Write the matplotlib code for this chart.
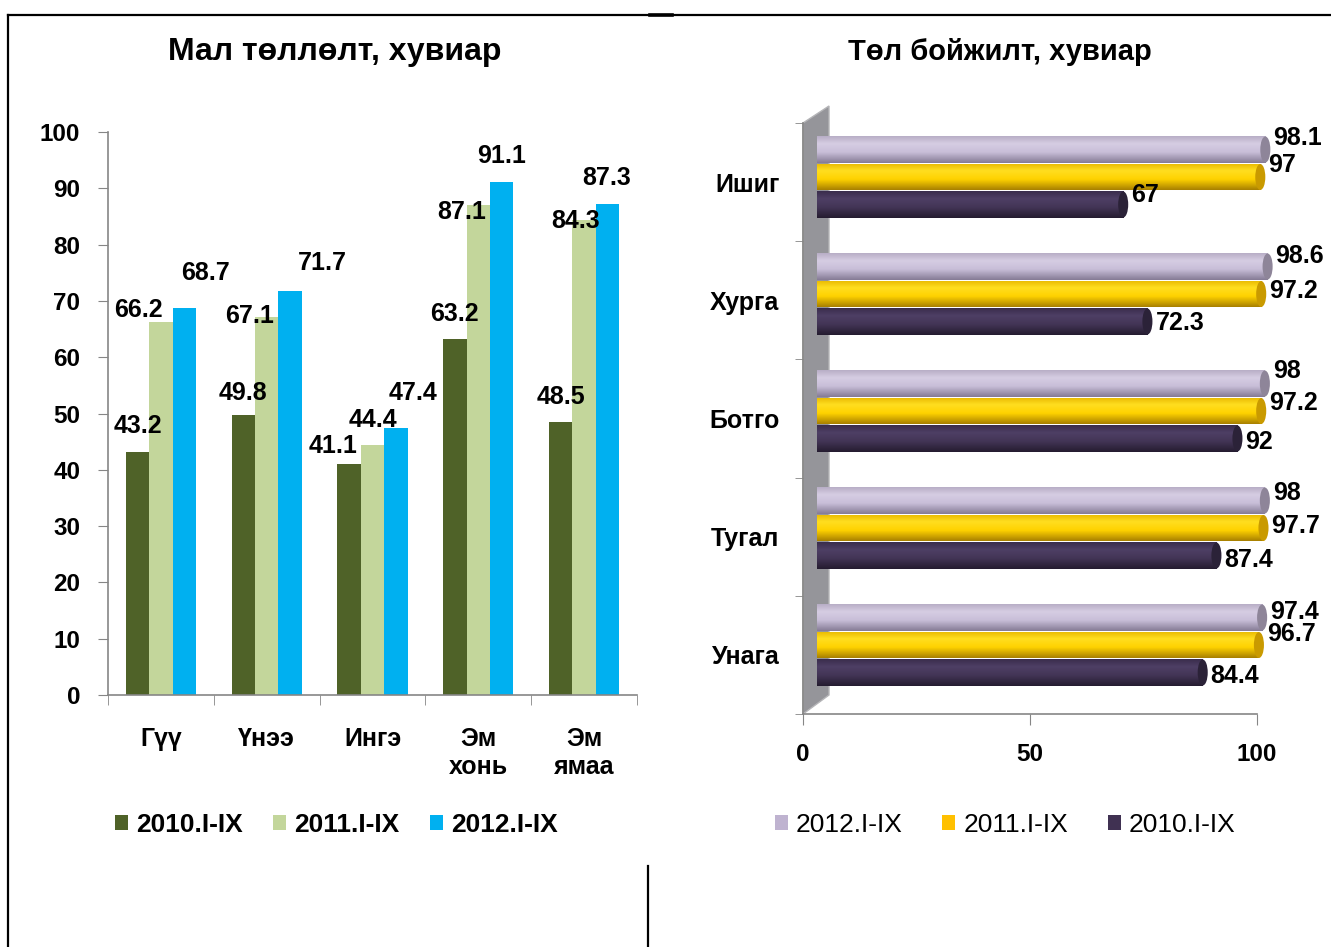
import matplotlib
matplotlib.use('Agg')
import matplotlib.pyplot as plt
import numpy as np
from matplotlib.patches import Polygon, Ellipse, Patch
from matplotlib.lines import Line2D
from matplotlib.colors import to_rgb

plt.rcParams['font.family'] = ['Liberation Sans', 'DejaVu Sans']

# ---------------- data ----------------
left_title = "Мал төллөлт, хувиар"
left_categories = ["Гүү", "Үнээ", "Ингэ", "Эм\nхонь", "Эм\nямаа"]
left_series = ["2010.I-IX", "2011.I-IX", "2012.I-IX"]
left_2010 = [43.2, 49.8, 41.1, 63.2, 48.5]
left_2011 = [66.2, 67.1, 44.4, 87.1, 84.3]
left_2012 = [68.7, 71.7, 47.4, 91.1, 87.3]
left_yticks = [0, 10, 20, 30, 40, 50, 60, 70, 80, 90, 100]

right_title = "Төл бойжилт, хувиар"
right_categories = ["Ишиг", "Хурга", "Ботго", "Тугал", "Унага"]
right_series = ["2012.I-IX", "2011.I-IX", "2010.I-IX"]
right_2012 = [98.1, 98.6, 98, 98, 97.4]
right_2011 = [97, 97.2, 97.2, 97.7, 96.7]
right_2010 = [67, 72.3, 92, 87.4, 84.4]
right_xticks = [0, 50, 100]

# label placement (pixels) for the value labels
label_dx = [[0, 0, -16, 0, 0], [-22, -17, 0, -17, -9], [21, 32, 17, 0, -1]]
label_dy = [[26, 22, 18, 25, 25], [12, 1, 25, -7, -1], [35, 28, 35, 26, 26]]
rlabel_dy = [[12, 11, 13, 8, 6], [12, 3, 8, 2, 11], [9, -2, -4, -5, -4]]

# ---------------- layout helpers ----------------
W, H = 1331, 947
fig = plt.figure(figsize=(W / 100, H / 100), dpi=100)
fig.patch.set_facecolor('white')
GRAY = '#868686'
PT = 0.72  # points per pixel at 100 dpi


def fx(px):
    return px / W


def fy(py):
    return 1 - py / H


# ---------------- frame lines ----------------
fig.add_artist(Line2D([fx(8), 1], [fy(15), fy(15)], color='black', lw=1.6, transform=fig.transFigure))
fig.add_artist(Line2D([fx(8), fx(8)], [fy(15), 0], color='black', lw=1.6, transform=fig.transFigure))
fig.add_artist(Line2D([fx(648), fx(648)], [fy(866), 0], color='black', lw=1.6, transform=fig.transFigure))
fig.add_artist(Line2D([fx(650), fx(672)], [fy(15.5), fy(15.5)], color='black', lw=2.6, transform=fig.transFigure))

# ---------------- left chart ----------------
ax1 = fig.add_axes([fx(108), fy(695), fx(637) - fx(108), fy(132) - fy(695)])
x = np.arange(len(left_categories))
bw = 0.221
left_colors = ['#4F6228', '#C3D69B', '#00B0F0']
left_vals = [left_2010, left_2011, left_2012]
for i, (vals, col) in enumerate(zip(left_vals, left_colors)):
    pos = x + (i - 1) * bw
    ax1.bar(pos, vals, bw, color=col, edgecolor='none', zorder=2)
    for j, (p, v) in enumerate(zip(pos, vals)):
        ax1.annotate(f"{v:g}", xy=(p, v), xytext=(label_dx[i][j] * PT, label_dy[i][j] * PT),
                     textcoords='offset points', ha='center', va='center',
                     fontsize=18, fontweight='bold', zorder=5)

ax1.set_xlim(-0.5, 4.5)
ax1.set_ylim(0, 100)
for s in ['top', 'right']:
    ax1.spines[s].set_visible(False)
for s in ['left', 'bottom']:
    ax1.spines[s].set_color(GRAY)
    ax1.spines[s].set_linewidth(1.2)
ax1.set_yticks(left_yticks)
ax1.tick_params(axis='y', direction='out', length=7, color=GRAY, labelsize=17.5, pad=13)
for lbl in ax1.get_yticklabels():
    lbl.set_fontweight('bold')
ax1.set_xticks(x)
ax1.set_xticklabels(left_categories, fontsize=18, fontweight='bold', linespacing=1.2)
ax1.set_xticks(np.arange(-0.5, 5, 1), minor=True)
ax1.tick_params(axis='x', which='major', length=0, pad=23)
ax1.tick_params(axis='x', which='minor', direction='out', length=7, color=GRAY)

fig.text(fx(335), fy(52), left_title, ha='center', va='center', fontsize=23, fontweight='bold')

h1 = [Patch(facecolor=c, edgecolor='none') for c in left_colors]
fig.legend(h1, left_series, loc='center', bbox_to_anchor=(fx(336), fy(825)), ncol=3, frameon=False,
           handlelength=0.5, handleheight=0.5, handletextpad=0.3, columnspacing=1.15,
           prop={'weight': 'bold', 'size': 19})

# ---------------- right chart ----------------
ax2 = fig.add_axes([fx(803), fy(714), fx(1257) - fx(803), fy(123) - fy(714)])
ax2.set_xlim(0, 100)
ax2.set_ylim(4.5, -0.5)
for s in ['top', 'right']:
    ax2.spines[s].set_visible(False)
for s in ['left', 'bottom']:
    ax2.spines[s].set_color(GRAY)
    ax2.spines[s].set_linewidth(1.2)
ax2.set_xticks(right_xticks)
ax2.set_xticklabels([str(t) for t in right_xticks], fontsize=17.5, fontweight='bold')
ax2.tick_params(axis='x', direction='out', length=8, color=GRAY, pad=13)
ax2.set_yticks(np.arange(len(right_categories)))
ax2.set_yticklabels(right_categories, fontsize=18, fontweight='bold')
ax2.set_yticks(np.arange(-0.5, 5, 1), minor=True)
ax2.tick_params(axis='y', which='major', length=0, pad=17)
ax2.tick_params(axis='y', which='minor', direction='out', length=6, color=GRAY)

wall = Polygon([(fx(803), fy(123)), (fx(829), fy(106)), (fx(829), fy(695)), (fx(803), fy(714))],
               closed=True, transform=fig.transFigure, facecolor='#95959A', edgecolor='#B5B5B8',
               lw=1, clip_on=False, zorder=1)
ax2.add_patch(wall)

fig.text(fx(1000), fy(52), right_title, ha='center', va='center', fontsize=21, fontweight='bold')

ax3 = fig.add_axes([fx(817), fy(703.5), fx(1274) - fx(817), fy(118.5) - fy(703.5)])
ax3.patch.set_alpha(0)
ax3.set_axis_off()
yr = np.arange(len(right_categories))
bh = 0.2265
right_vals = [right_2012, right_2011, right_2010]
# (top, highlight, mid, bottom, cap)
right_shades = [
    ('#B8AEC6', '#D6CDE3', '#C8BED8', '#857B95', '#8E8599'),
    ('#E8B800', '#FFDE20', '#FFD200', '#A88000', '#C99A00'),
    ('#3A2D4C', '#4E3F65', '#433556', '#251C30', '#2B2238'),
]
right_legend_colors = ['#BFB3D0', '#FFC000', '#403152']
stops = [0.0, 0.28, 0.6, 1.0]
for i, (vals, shade) in enumerate(zip(right_vals, right_shades)):
    pos = yr + (i - 1) * 0.235
    bars = ax3.barh(pos, vals, bh, color=shade[2], edgecolor='none', zorder=2)
    t = np.linspace(0, 1, 64)
    rgb = np.array([to_rgb(c) for c in shade[:4]])
    img = np.stack([np.interp(t, stops, rgb[:, k]) for k in range(3)], axis=-1)[:, None, :]
    for j, (r, v) in enumerate(zip(bars, vals)):
        bx, by = r.get_xy()
        w, hh = r.get_width(), r.get_height()
        im = ax3.imshow(img, extent=(bx, bx + w, by + hh, by), aspect='auto', origin='upper',
                        interpolation='bilinear', zorder=2.5)
        im.set_clip_path(r)
        ax3.add_patch(Ellipse((bx + w, by + hh / 2), width=2.2, height=hh * 0.98,
                              facecolor=shade[4], edgecolor='none', zorder=3))
        ax3.annotate(f"{v:g}", xy=(bx + w, by + hh / 2), xytext=(8 * PT, rlabel_dy[i][j] * PT),
                     textcoords='offset points', ha='left', va='center',
                     fontsize=18, fontweight='bold', zorder=5, annotation_clip=False)
ax3.set_xlim(0, 100)
ax3.set_ylim(4.5, -0.5)

h2 = [Patch(facecolor=c, edgecolor='none') for c in right_legend_colors]
fig.legend(h2, right_series, loc='center', bbox_to_anchor=(fx(1005), fy(825)), ncol=3, frameon=False,
           handlelength=0.5, handleheight=0.5, handletextpad=0.3, columnspacing=1.5,
           prop={'size': 19})

fig.savefig('out.png', dpi=100, facecolor='white')
